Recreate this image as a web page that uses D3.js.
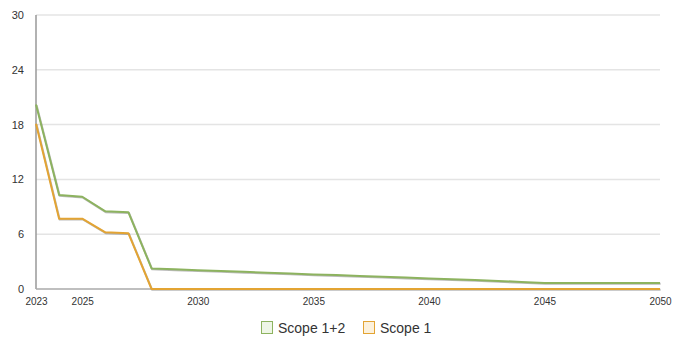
<!DOCTYPE html>
<html>
<head>
<meta charset="utf-8">
<script src="https://cdn.jsdelivr.net/npm/d3@7"></script>
<style>
  body { margin: 0; background: #fff; }
  text { font-family: "Liberation Sans", Arial, sans-serif; fill: #333; }
</style>
</head>
<body>
<div id="chart"></div>
<script>
// data
var years = d3.range(2023, 2051);
var scope12 = [20.2, 10.3, 10.1, 8.5, 8.4, 2.25, 2.15, 2.05, 1.97, 1.88, 1.79, 1.7, 1.6, 1.52,
               1.43, 1.34, 1.25, 1.16, 1.07, 0.98, 0.88, 0.78, 0.66, 0.65, 0.65, 0.65, 0.65, 0.65];
var scope1 = [18.1, 7.7, 7.7, 6.2, 6.1, 0, 0, 0, 0, 0, 0, 0, 0, 0,
              0, 0, 0, 0, 0, 0, 0, 0, 0, 0, 0, 0, 0, 0];
var xTicks = [2023, 2025, 2030, 2035, 2040, 2045, 2050];
var yTicks = [0, 6, 12, 18, 24, 30];
var seriesNames = ["Scope 1+2", "Scope 1"];
var seriesColors = ["#8db35f", "#e3a433"];
var legendFills = ["#eef6e6", "#fcf1dc"];

var margin = { top: 15, right: 28, bottom: 49, left: 36 },
    width = 688 - margin.left - margin.right,
    height = 338 - margin.top - margin.bottom;

var svg = d3.select("#chart").append("svg")
    .attr("width", 688)
    .attr("height", 338);

var g = svg.append("g")
    .attr("transform", "translate(" + margin.left + "," + margin.top + ")");

var x = d3.scaleLinear().domain([2023, 2050]).range([0, width]);
var y = d3.scaleLinear().domain([0, 30]).range([height, 0]);

// gridlines
g.append("g")
    .selectAll("line")
    .data(yTicks.filter(function (d) { return d > 0; }))
    .enter().append("line")
    .attr("x1", 0).attr("x2", width)
    .attr("y1", function (d) { return y(d); })
    .attr("y2", function (d) { return y(d); })
    .attr("stroke", "#e4e4e4")
    .attr("stroke-width", 1.5);

// y axis labels
var yAxis = g.append("g")
    .call(d3.axisLeft(y).tickValues(yTicks).tickSize(0).tickPadding(12));
yAxis.select(".domain").remove();
yAxis.selectAll("text").style("font-size", "11px").attr("fill", "#333");

// x axis labels
var xAxis = g.append("g")
    .attr("transform", "translate(0," + height + ")")
    .call(d3.axisBottom(x).tickValues(xTicks).tickFormat(d3.format("d")).tickSize(0).tickPadding(9));
xAxis.select(".domain").remove();
xAxis.selectAll("text").style("font-size", "10px").attr("fill", "#333");

// axis lines
g.append("line")
    .attr("x1", 0).attr("x2", 0).attr("y1", 0).attr("y2", height)
    .attr("stroke", "#999").attr("stroke-width", 1.5);
g.append("line")
    .attr("x1", 0).attr("x2", width).attr("y1", height).attr("y2", height)
    .attr("stroke", "#aaa").attr("stroke-width", 1.5);

var line = d3.line()
    .x(function (d, i) { return x(years[i]); })
    .y(function (d) { return y(d); });

[scope12, scope1].forEach(function (vals, k) {
    // soft shadow under the line
    g.append("path")
        .datum(vals)
        .attr("fill", "none")
        .attr("stroke", "rgba(60,60,60,0.35)")
        .attr("stroke-width", 2)
        .attr("transform", "translate(0.6,0.8)")
        .attr("d", line);
    g.append("path")
        .datum(vals)
        .attr("fill", "none")
        .attr("stroke", seriesColors[k])
        .attr("stroke-width", 2)
        .attr("stroke-linejoin", "round")
        .attr("d", line);
});

// legend
var legendX = [261, 363];
var legend = svg.append("g");
seriesNames.forEach(function (name, k) {
    legend.append("rect")
        .attr("x", legendX[k] + 0.5).attr("y", 321.5)
        .attr("width", 11).attr("height", 12)
        .attr("fill", legendFills[k])
        .attr("stroke", seriesColors[k])
        .attr("stroke-width", 1);
    legend.append("text")
        .attr("x", legendX[k] + 17).attr("y", 333)
        .style("font-size", "14px")
        .text(name);
});
</script>
</body>
</html>
